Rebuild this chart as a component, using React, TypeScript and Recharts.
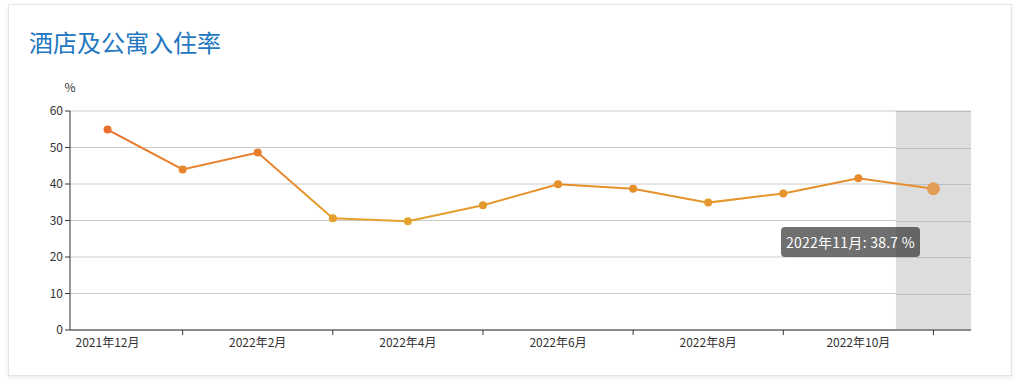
import React from 'react';
import { LineChart, Line, XAxis, YAxis, CartesianGrid, Tooltip, ReferenceArea } from 'recharts';

const title = '酒店及公寓入住率';
const unitLabel = '%';
const months = [
  '2021年12月', '2022年1月', '2022年2月', '2022年3月', '2022年4月', '2022年5月',
  '2022年6月', '2022年7月', '2022年8月', '2022年9月', '2022年10月', '2022年11月',
];
const occupancy = [54.9, 44.0, 48.6, 30.6, 29.8, 34.2, 39.9, 38.7, 34.9, 37.4, 41.6, 38.7];
const yTicks = [0, 10, 20, 30, 40, 50, 60];
const activeIndex = 11;

const data = months.map((m, i) => ({ month: m, value: occupancy[i] }));

const FONT = '"Noto Sans CJK SC", "Microsoft YaHei", sans-serif';
const highColor = [233, 112, 46];
const lowColor = [227, 162, 42];
const vMin = Math.min(...occupancy);
const vMax = Math.max(...occupancy);
const yMin = yTicks[0];
const yMax = yTicks[yTicks.length - 1];
const colorFor = (v: number) => {
  const t = (v - vMin) / (vMax - vMin);
  const c = lowColor.map((lc, k) => Math.round(lc + (highColor[k] - lc) * t));
  return `rgb(${c[0]},${c[1]},${c[2]})`;
};

const ValueDot = (props: any) => {
  const { cx, cy, payload, index } = props;
  if (cx == null || cy == null) return null;
  return <circle key={`d${index}`} cx={cx} cy={cy} r={4} fill={colorFor(payload.value)} />;
};

const XTick = (props: any) => {
  const { x, y, payload, index } = props;
  if (index % 2 === 0) {
    return (
      <text x={x} y={y} dy="0.71em" textAnchor="middle" fill="#333" fontSize={12} fontFamily={FONT}>
        {payload.value}
      </text>
    );
  }
  return <line x1={x} x2={x} y1={y - 8} y2={y - 3} stroke="#333" strokeWidth={1} />;
};

const BandShape = (props: any) => {
  const x = Number(props.x);
  const y = Number(props.y);
  const width = Number(props.width);
  const height = Number(props.height);
  if (!isFinite(x) || !isFinite(y)) return null;
  return (
    <g className="band-shape">
      <rect x={x} y={y} width={width} height={height} fill="#dddddd" stroke="none" />
      {yTicks.slice(1).map((t) => {
        const yy = Math.round(y + height * (1 - (t - yMin) / (yMax - yMin))) + 0.5;
        return <line key={t} x1={x} x2={x + width} y1={yy} y2={yy} stroke="#bfbfbf" strokeWidth={1} />;
      })}
    </g>
  );
};

const TipContent = (props: any) => {
  const { active, payload, label } = props;
  if (!active || !payload || !payload.length) return null;
  return (
    <div
      style={{
        background: 'rgba(50,50,50,0.7)',
        color: '#fff',
        borderRadius: 4,
        padding: '5px 5px',
        fontSize: 14,
        lineHeight: '20px',
        letterSpacing: '0.25px',
        fontFamily: FONT,
        whiteSpace: 'nowrap',
      }}
    >
      {label}: {payload[0].value} %
    </div>
  );
};

const UnitLabel = (props: any) => {
  const { viewBox } = props;
  return (
    <text x={viewBox.x + viewBox.width} y={viewBox.y - 19} textAnchor="middle" fill="#333" fontSize={12} fontFamily={FONT}>
      {unitLabel}
    </text>
  );
};

export default function App() {
  return (
    <div style={{ position: 'absolute', left: 0, top: 0, width: 1016, height: 382, fontFamily: FONT }}>
      <div
        style={{
          position: 'absolute',
          left: 8,
          top: 4,
          width: 1002,
          height: 370,
          border: '1px solid #e4e4e4',
          boxShadow: '0 2px 5px rgba(0,0,0,0.08)',
          background: '#fff',
        }}
      />
      <div
        style={{
          position: 'absolute',
          left: 29,
          top: 30,
          fontSize: 24,
          lineHeight: '24px',
          color: '#2277c0',
          fontFamily: FONT,
          whiteSpace: 'nowrap',
        }}
      >
        {title}
      </div>
      <div style={{ position: 'absolute', left: 0, top: 0 }}>
        <LineChart width={1016} height={382} data={data} margin={{ top: 111, right: 45, bottom: 22, left: 30 }}>
          <defs>
            <linearGradient id="lineGrad" x1="0" y1="0" x2="0" y2="1">
              <stop offset="0%" stopColor={colorFor(vMax)} />
              <stop offset="100%" stopColor={colorFor(vMin)} />
            </linearGradient>
          </defs>
          <CartesianGrid vertical={false} stroke="#cccccc" />
          <ReferenceArea
            x1={months[activeIndex]}
            x2={months[activeIndex]}
            ifOverflow="visible"
            shape={(p: any) => <BandShape {...p} />}
          />
          <XAxis
            dataKey="month"
            scale="band"
            interval={0}
            tickLine={false}
            axisLine={{ stroke: '#333' }}
            tick={<XTick />}
            height={30}
          />
          <YAxis
            domain={[yMin, yMax]}
            ticks={yTicks}
            width={40}
            tickSize={5}
            tickMargin={2}
            axisLine={{ stroke: '#333' }}
            tickLine={{ stroke: '#333' }}
            tick={{ fill: '#333', fontSize: 12, fontFamily: FONT }}
            label={<UnitLabel />}
          />
          <Tooltip
            defaultIndex={activeIndex}
            active={true}
            cursor={false}
            position={{ x: 781, y: 227 }}
            content={<TipContent />}
            isAnimationActive={false}
            wrapperStyle={{ outline: 'none' }}
          />
          <Line
            type="linear"
            dataKey="value"
            stroke="url(#lineGrad)"
            strokeWidth={2}
            dot={<ValueDot />}
            activeDot={{ r: 6.5, fill: '#e09d53', stroke: 'none' }}
            isAnimationActive={false}
          />
        </LineChart>
      </div>
    </div>
  );
}
